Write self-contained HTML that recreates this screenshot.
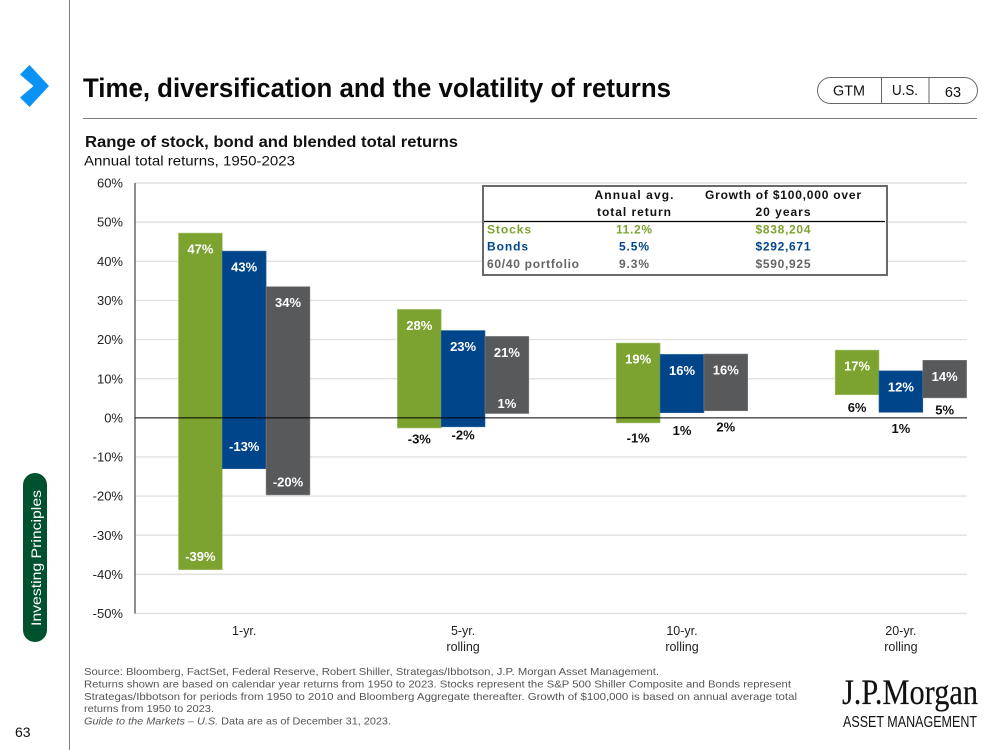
<!DOCTYPE html>
<html lang="en">
<head>
<meta charset="utf-8">
<title>Time, diversification and the volatility of returns</title>
<style>
html,body{margin:0;padding:0;background:#fff;width:1000px;height:750px;overflow:hidden}
svg{display:block;font-family:"Liberation Sans",sans-serif}
</style>
</head>
<body>
<svg id="page" width="1000" height="750" viewBox="0 0 1000 750" xmlns="http://www.w3.org/2000/svg">
  <line x1="69.5" y1="0" x2="69.5" y2="750" stroke="#7f7f7f" stroke-width="1"/>
  <polygon points="29.5,65 49,86 29.5,107 20,97.5 33.5,86 20,74.5" fill="#0a93f5"/>
  <text x="83" y="97" font-size="27" font-weight="700" fill="#0a0a0a" textLength="588" lengthAdjust="spacingAndGlyphs">Time, diversification and the volatility of returns</text>

  <g>
    <rect x="817.5" y="77.5" width="160" height="26" rx="13" ry="13" fill="#fff" stroke="#666" stroke-width="1"/>
    <line x1="881.5" y1="77" x2="881.5" y2="104" stroke="#666"/>
    <line x1="929" y1="77" x2="929" y2="104" stroke="#666"/>
    <text x="849" y="95.5" font-size="14.5" text-anchor="middle" fill="#111" textLength="32" lengthAdjust="spacingAndGlyphs">GTM</text>
    <text x="905" y="95" font-size="14.5" text-anchor="middle" fill="#111" textLength="26" lengthAdjust="spacingAndGlyphs">U.S.</text>
    <text x="953" y="97" font-size="14.5" text-anchor="middle" fill="#111">63</text>
  </g>
  <line x1="83" y1="118.5" x2="977" y2="118.5" stroke="#808080" stroke-width="1"/>

  <text x="85" y="147" font-size="15.5" font-weight="700" fill="#111" textLength="373" lengthAdjust="spacingAndGlyphs">Range of stock, bond and blended total returns</text>
  <text x="84" y="165.5" font-size="14" fill="#111" textLength="211" lengthAdjust="spacingAndGlyphs">Annual total returns, 1950-2023</text>

  <g id="chart"></g>

  <g font-size="12" font-weight="700">
    <rect x="483" y="186" width="404" height="89" fill="#fff" stroke="#6a6a6a" stroke-width="2"/>
    <line x1="484" y1="221.5" x2="885" y2="221.5" stroke="#000" stroke-width="1.2"/>
    <text x="634" y="199" text-anchor="middle" fill="#111" textLength="79">Annual avg.</text>
    <text x="634" y="216" text-anchor="middle" fill="#111" textLength="74">total return</text>
    <text x="783" y="199" text-anchor="middle" fill="#111" textLength="156">Growth of $100,000 over</text>
    <text x="783" y="216" text-anchor="middle" fill="#111" textLength="55">20 years</text>
    <g fill="#7ca32f">
      <text x="487" y="233.5" textLength="44">Stocks</text>
      <text x="634" y="233.5" text-anchor="middle" textLength="36">11.2%</text>
      <text x="783" y="233.5" text-anchor="middle" textLength="55">$838,204</text>
    </g>
    <g fill="#00468b">
      <text x="487" y="250.5" textLength="41">Bonds</text>
      <text x="634" y="250.5" text-anchor="middle" textLength="30">5.5%</text>
      <text x="783" y="250.5" text-anchor="middle" textLength="55">$292,671</text>
    </g>
    <g fill="#636466">
      <text x="487" y="268" textLength="92">60/40 portfolio</text>
      <text x="634" y="268" text-anchor="middle" textLength="30">9.3%</text>
      <text x="783" y="268" text-anchor="middle" textLength="55">$590,925</text>
    </g>
  </g>

  <g font-size="10.3" fill="#555">
    <text x="84" y="675" textLength="575" lengthAdjust="spacingAndGlyphs">Source: Bloomberg, FactSet, Federal Reserve, Robert Shiller, Strategas/Ibbotson, J.P. Morgan Asset Management.</text>
    <text x="84" y="687.5" textLength="707" lengthAdjust="spacingAndGlyphs">Returns shown are based on calendar year returns from 1950 to 2023. Stocks represent the S&amp;P 500 Shiller Composite and Bonds represent</text>
    <text x="84" y="700" textLength="713" lengthAdjust="spacingAndGlyphs">Strategas/Ibbotson for periods from 1950 to 2010 and Bloomberg Aggregate thereafter. Growth of $100,000 is based on annual average total</text>
    <text x="84" y="712" textLength="130" lengthAdjust="spacingAndGlyphs">returns from 1950 to 2023.</text>
    <text x="84" y="724.5" textLength="307" lengthAdjust="spacingAndGlyphs"><tspan font-style="italic">Guide to the Markets – U.S.</tspan> Data are as of December 31, 2023.</text>
  </g>

  <g>
    <text x="842" y="704" font-family="'Liberation Serif',serif" font-size="36" fill="#111" stroke="#111" stroke-width=".2" textLength="136" lengthAdjust="spacingAndGlyphs">J.P.Morgan</text>
    <text x="843" y="727" font-size="15.5" fill="#111" textLength="134" lengthAdjust="spacingAndGlyphs">ASSET MANAGEMENT</text>
  </g>

  <rect x="23" y="473" width="24" height="169" rx="12" ry="12" fill="#00522f"/>
  <text transform="translate(41 558) rotate(-90)" text-anchor="middle" font-size="14" fill="#fff" textLength="136" lengthAdjust="spacingAndGlyphs">Investing Principles</text>
  <text x="15" y="737" font-size="14" fill="#111">63</text>
</svg>

<script>
const categories = ["1-yr.|", "5-yr.|rolling", "10-yr.|rolling", "20-yr.|rolling"];
const yTicks = [60, 50, 40, 30, 20, 10, 0, -10, -20, -30, -40, -50];
const stocksHigh = [47.2, 27.7, 19.1, 17.3];
const stocksLow = [-38.8, -2.6, -1.3, 5.9];
const bondsHigh = [42.6, 22.3, 16.2, 12.0];
const bondsLow = [-13.0, -2.3, 1.3, 1.4];
const blendHigh = [33.5, 20.8, 16.3, 14.7];
const blendLow = [-19.7, 1.1, 1.8, 5.1];
const stocksHighLabels = ["47%", "28%", "19%", "17%"];
const stocksLowLabels = ["-39%", "-3%", "-1%", "6%"];
const bondsHighLabels = ["43%", "23%", "16%", "12%"];
const bondsLowLabels = ["-13%", "-2%", "1%", "1%"];
const blendHighLabels = ["34%", "21%", "16%", "14%"];
const blendLowLabels = ["-20%", "1%", "2%", "5%"];
const stocksLowLabelGap = [-13, 11, 15, 13];
const bondsLowLabelGap = [-22, 8, 18, 16];
const blendLowLabelGap = [-13, -10, 16, 12];

const NS = "http://www.w3.org/2000/svg";
const chart = document.getElementById("chart");
const plot = { left: 135, right: 967, top: 183, bottom: 613.5, domainMax: 60, domainMin: -50 };
const firstGroupCentre = 244.2, groupStep = 218.9, barWidth = 43.8;

function yScale(v) {
  return plot.top + (plot.domainMax - v) / (plot.domainMax - plot.domainMin) * (plot.bottom - plot.top);
}
function xScale(i) {
  return firstGroupCentre + i * groupStep;
}
function make(tag, attrs, parent) {
  const el = document.createElementNS(NS, tag);
  for (const k in attrs) el.setAttribute(k, attrs[k]);
  (parent || chart).appendChild(el);
  return el;
}

yTicks.forEach(function (t) {
  if (t !== 0) {
    const grid = make("line", { x1: plot.left, x2: plot.right, y1: yScale(t), y2: yScale(t), stroke: "#e1e1e1", "stroke-width": 1.4 });
    
    
  }
  const tick = make("text", { x: 123, y: yScale(t) + 4.6, "text-anchor": "end", "font-size": 13, fill: "#222" });
  
  
  tick.textContent = t + "%";
});

const axis = make("line", { x1: plot.left, x2: plot.left, y1: plot.top, y2: plot.bottom, stroke: "#444", "stroke-width": 1.2 });



const seriesList = [
  { key: "stocks", offset: -1.5, fill: "#7ca32f", edge: "#a5c06f", hi: stocksHigh, lo: stocksLow, hiL: stocksHighLabels, loL: stocksLowLabels, gap: stocksLowLabelGap },
  { key: "bonds", offset: -0.5, fill: "#00458a", edge: "#2d66a1", hi: bondsHigh, lo: bondsLow, hiL: bondsHighLabels, loL: bondsLowLabels, gap: bondsLowLabelGap },
  { key: "blend", offset: 0.5, fill: "#58595b", edge: "#7c7d7f", hi: blendHigh, lo: blendLow, hiL: blendHighLabels, loL: blendLowLabels, gap: blendLowLabelGap }
];

seriesList.forEach(function (s) {
  categories.forEach(function (c, i) {
    const x = xScale(i) + s.offset * barWidth;
    const yTop = yScale(s.hi[i]);
    const yBot = yScale(s.lo[i]);
    const bar = make("rect", { x: x, y: yTop, width: barWidth, height: yBot - yTop, fill: s.fill, stroke: s.edge, "stroke-width": 0.6 });
    
    
    bar.setAttribute('data-series', s.key);
  });
});

const zero = make("line", { x1: plot.left, x2: plot.right, y1: yScale(0), y2: yScale(0), stroke: "#000", "stroke-width": 1 });



seriesList.forEach(function (s) {
  categories.forEach(function (c, i) {
    const cx = xScale(i) + (s.offset + 0.5) * barWidth;
    const high = make("text", { x: cx, y: yScale(s.hi[i]) + 20.5, "text-anchor": "middle", "font-size": 13, "font-weight": 700, fill: "#fff" });
    
    
    high.textContent = s.hiL[i];
    const inside = s.gap[i] < 0;
    const low = make("text", { x: cx, y: yScale(s.lo[i]) + s.gap[i] + 4.5, "text-anchor": "middle", "font-size": 13, "font-weight": 700, fill: inside ? "#fff" : "#111" });
    
    
    low.textContent = s.loL[i];
  });
});

categories.forEach(function (c, i) {
  c.split("|").forEach(function (line, n) {
    if (!line) return;
    const lab = make("text", { x: xScale(i), y: 635 + n * 16, "text-anchor": "middle", "font-size": 12.5, fill: "#222" });
    
    
    lab.textContent = line;
  });
});
</script>
</body>
</html>
